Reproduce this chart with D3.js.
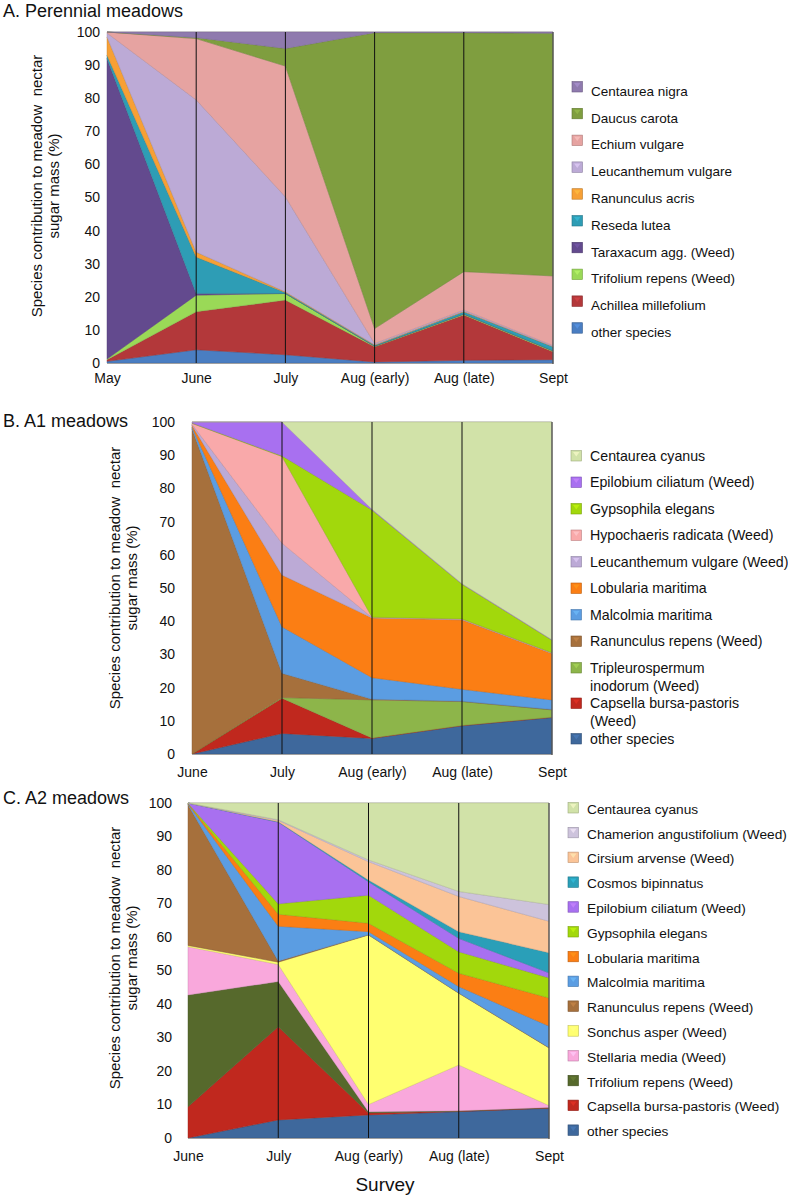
<!DOCTYPE html>
<html>
<head>
<meta charset="utf-8">
<script src="https://cdn.jsdelivr.net/npm/d3@7/dist/d3.min.js"></script>
<style>
  html, body { margin: 0; padding: 0; background: #fff; }
  svg { display: block; font-family: "Liberation Sans", Arial, sans-serif; }
  .ytitle { white-space: pre; }
</style>
</head>
<body>
<svg id="chart" width="788" height="1195"></svg>
<script>
// ---------- Panel A: Perennial meadows ----------
const surveysA = ["May", "June", "July", "Aug (early)", "Aug (late)", "Sept"];
// species listed bottom -> top of the stack
const speciesA = ["other species", "Achillea millefolium", "Trifolium repens (Weed)", "Taraxacum agg. (Weed)",
  "Reseda lutea", "Ranunculus acris", "Leucanthemum vulgare", "Echium vulgare", "Daucus carota", "Centaurea nigra"];
const colorsA = ["#4a7ec2", "#b3383a", "#9ad957", "#634a8e", "#2e9db5", "#f7a035", "#bcaad6", "#e6a3a1", "#7f9e3f", "#8f7aae"];
const valuesA = [
  [0.5, 4.0, 2.5, 0.3, 0.8, 1.0],
  [0.5, 11.5, 16.5, 4.6, 13.7, 2.4],
  [0.2, 5.0, 2.0, 0.2, 0.3, 0.3],
  [90.8, 0.5, 0.0, 0.0, 0.0, 0.0],
  [1.0, 11.0, 0.3, 0.3, 0.7, 1.2],
  [5.5, 1.5, 0.2, 0.1, 0.1, 0.1],
  [1.2, 46.0, 28.7, 0.4, 0.4, 0.3],
  [0.3, 18.5, 39.5, 4.5, 11.6, 21.0],
  [0.0, 0.3, 5.3, 89.4, 72.2, 73.3],
  [0.0, 1.7, 5.0, 0.2, 0.2, 0.4]
];

// ---------- Panel B: A1 meadows ----------
const surveysB = ["June", "July", "Aug (early)", "Aug (late)", "Sept"];
const speciesB = ["other species", "Capsella bursa-pastoris\n(Weed)", "Tripleurospermum\ninodorum (Weed)", "Ranunculus repens (Weed)",
  "Malcolmia maritima", "Lobularia maritima", "Leucanthemum vulgare (Weed)", "Hypochaeris radicata (Weed)",
  "Gypsophila elegans", "Epilobium ciliatum (Weed)", "Centaurea cyanus"];
const colorsB = ["#3e689c", "#c0281e", "#8db54a", "#a6703c", "#5b9de2", "#fb7e14", "#bcaad6", "#f9a9aa", "#a2d80c", "#a870f0", "#d1e2a8"];
const valuesB = [
  [0.0, 6.2, 4.7, 8.5, 11.0],
  [0.0, 10.6, 0.1, 0.1, 0.1],
  [0.0, 0.2, 11.5, 7.2, 2.2],
  [98.0, 7.3, 0.2, 0.1, 0.1],
  [0.5, 14.0, 6.5, 3.6, 2.9],
  [0.5, 15.6, 18.0, 20.9, 14.0],
  [0.3, 9.6, 0.1, 0.2, 0.1],
  [0.3, 26.1, 0.1, 0.1, 0.1],
  [0.1, 0.2, 32.3, 10.5, 3.8],
  [0.3, 10.2, 0.2, 0.1, 0.1],
  [0.0, 0.0, 26.3, 48.7, 65.6]
];

// ---------- Panel C: A2 meadows ----------
const surveysC = ["June", "July", "Aug (early)", "Aug (late)", "Sept"];
const speciesC = ["other species", "Capsella bursa-pastoris (Weed)", "Trifolium repens (Weed)", "Stellaria media (Weed)",
  "Sonchus asper (Weed)", "Ranunculus repens (Weed)", "Malcolmia maritima", "Lobularia maritima", "Gypsophila elegans",
  "Epilobium ciliatum (Weed)", "Cosmos bipinnatus", "Cirsium arvense (Weed)", "Chamerion angustifolium (Weed)", "Centaurea cyanus"];
const colorsC = ["#3e689c", "#c0281e", "#56692c", "#f9a8dc", "#ffff70", "#a6703c", "#5b9de2", "#fb7e14", "#a2d80c",
  "#a870f0", "#2a9fb8", "#fbc497", "#cdc3dc", "#d1e2a8"];
const valuesC = [
  [0.0, 5.4, 6.9, 7.9, 8.9],
  [9.3, 27.8, 0.6, 0.1, 0.1],
  [33.4, 13.5, 0.3, 0.1, 0.1],
  [14.4, 5.1, 2.2, 13.7, 0.6],
  [0.4, 0.7, 50.6, 21.4, 17.2],
  [42.0, 0.3, 0.1, 0.1, 0.1],
  [0.2, 10.4, 0.9, 1.9, 6.4],
  [0.1, 3.6, 2.5, 4.0, 8.4],
  [0.1, 3.1, 8.4, 6.4, 6.0],
  [0.1, 24.4, 4.0, 4.0, 1.5],
  [0.0, 0.1, 0.5, 2.0, 6.0],
  [0.0, 0.4, 5.5, 10.5, 9.4],
  [0.0, 0.2, 0.5, 1.5, 5.0],
  [0.0, 5.0, 17.0, 26.4, 30.3]
];

const yTicks = [0, 10, 20, 30, 40, 50, 60, 70, 80, 90, 100];
const yTitle = ["Species contribution to meadow  nectar", "sugar mass (%)"];

const svg = d3.select("#chart");

function drawPanel(cfg) {
  const g = svg.append("g");
  const x = d3.scalePoint().domain(cfg.surveys).range([cfg.left, cfg.right]);
  const y = d3.scaleLinear().domain([0, 100]).range([cfg.bottom, cfg.top]);

  const rows = cfg.surveys.map((s, i) => {
    const r = { survey: s };
    cfg.species.forEach((sp, k) => { r[sp] = cfg.values[k][i]; });
    return r;
  });
  const stack = d3.stack().keys(cfg.species)(rows);
  const area = d3.area()
    .x(d => x(d.data.survey))
    .y0(d => y(d[0]))
    .y1(d => y(d[1]))
    .curve(d3.curveLinear);

  g.append("line").attr("x1", cfg.left).attr("x2", cfg.right).attr("y1", cfg.top).attr("y2", cfg.top)
    .attr("stroke", "#b8b8b8").attr("stroke-width", 1.2);

  g.selectAll("path.area").data(stack).join("path")
    .attr("class", "area")
    .attr("d", area)
    .attr("fill", (d, i) => cfg.colors[i])
    .attr("stroke", (d, i) => d3.color(cfg.colors[i]).darker(0.6))
    .attr("stroke-opacity", 0.55)
    .attr("stroke-width", 0.8)
    .attr("stroke-linejoin", "round");

  g.append("line").attr("x1", cfg.left).attr("x2", cfg.right).attr("y1", cfg.bottom + 0.5).attr("y2", cfg.bottom + 0.5)
    .attr("stroke", "#a0a0a0").attr("stroke-width", 1.2);

  cfg.surveys.slice(1, -1).forEach(s => {
    g.append("line").attr("x1", x(s)).attr("x2", x(s)).attr("y1", cfg.top).attr("y2", cfg.bottom)
      .attr("stroke", "#111").attr("stroke-width", 1);
  });
  g.append("line").attr("x1", cfg.right).attr("x2", cfg.right).attr("y1", cfg.top).attr("y2", cfg.bottom + 1)
    .attr("stroke", "#555").attr("stroke-width", 1.4);

  const yAxis = d3.axisLeft(y).tickValues(yTicks).tickSize(0).tickPadding(0);
  const ya = g.append("g").attr("transform", `translate(${cfg.tickRight},0)`).call(yAxis);
  ya.select(".domain").remove();
  ya.selectAll("text").attr("font-size", 14).attr("fill", "#111")
    .attr("font-family", "Liberation Sans, Arial, sans-serif");

  const xAxis = d3.axisBottom(x).tickSize(0).tickPadding(0);
  const xa = g.append("g").attr("transform", `translate(0,${cfg.xLabelY})`).call(xAxis);
  xa.select(".domain").remove();
  xa.selectAll("text").attr("font-size", 14).attr("fill", "#111").attr("dy", 0).attr("y", 0)
    .attr("font-family", "Liberation Sans, Arial, sans-serif");

  yTitle.forEach((t, i) => {
    g.append("text")
      .attr("class", "ytitle")
      .attr("xml:space", "preserve")
      .attr("transform", `translate(${cfg.titleX + i * 17},${cfg.titleCY}) rotate(-90)`)
      .attr("text-anchor", "middle")
      .attr("font-size", 15).attr("fill", "#111")
      .text(t);
  });

  g.append("text").attr("x", 3).attr("y", cfg.panelTitleY).attr("font-size", 18).attr("fill", "#111").text(cfg.panelTitle);

  const lg = g.append("g");
  const order = cfg.species.map((s, i) => i).reverse();
  let extra = 0;
  order.forEach((idx, j) => {
    const lines = cfg.species[idx].split("\n");
    const cy = cfg.legY + j * cfg.legStep + extra;
    const c = cfg.colors[idx];
    lg.append("rect").attr("x", cfg.legX).attr("y", cy - 5.5 + cfg.swOff).attr("width", 10.5).attr("height", 10.5)
      .attr("fill", c).attr("stroke", d3.color(c).darker(0.8)).attr("stroke-width", 0.6);
    lg.append("path")
      .attr("d", `M${cfg.legX + 2},${cy - 4 + cfg.swOff} L${cfg.legX + 8.5},${cy - 4 + cfg.swOff} L${cfg.legX + 5.25},${cy + 0.5 + cfg.swOff} Z`)
      .attr("fill", d3.color(c).brighter(0.6)).attr("opacity", 0.6);
    lines.forEach((ln, li) => {
      lg.append("text").attr("x", cfg.legX + 19).attr("y", cy + 4.8 + li * 18)
        .attr("font-size", cfg.legFont).attr("fill", "#111").text(ln);
    });
    extra += (lines.length - 1) * cfg.legExtra;
  });
}

drawPanel({
  surveys: surveysA, species: speciesA, colors: colorsA, values: valuesA,
  left: 107, right: 553, top: 32, bottom: 363,
  tickRight: 100, xLabelY: 383, titleX: 42, titleCY: 186,
  panelTitle: "A. Perennial meadows", panelTitleY: 17,
  legX: 572, legY: 91, legStep: 26.8, legExtra: 0, swOff: -4, legFont: 13.5
});
drawPanel({
  surveys: surveysB, species: speciesB, colors: colorsB, values: valuesB,
  left: 192, right: 552, top: 422, bottom: 754,
  tickRight: 175, xLabelY: 777, titleX: 120, titleCY: 578,
  panelTitle: "B. A1 meadows", panelTitleY: 427,
  legX: 571, legY: 456, legStep: 26.5, legExtra: 9, swOff: 0, legFont: 14.2
});
drawPanel({
  surveys: surveysC, species: speciesC, colors: colorsC, values: valuesC,
  left: 188, right: 549, top: 803, bottom: 1138,
  tickRight: 172, xLabelY: 1161, titleX: 120, titleCY: 958,
  panelTitle: "C. A2 meadows", panelTitleY: 804,
  legX: 568, legY: 809, legStep: 24.8, legExtra: 0, swOff: -1, legFont: 13.7
});

svg.append("text").attr("x", 385).attr("y", 1191).attr("text-anchor", "middle")
  .attr("font-size", 19).attr("fill", "#111").text("Survey");
</script>
</body>
</html>
